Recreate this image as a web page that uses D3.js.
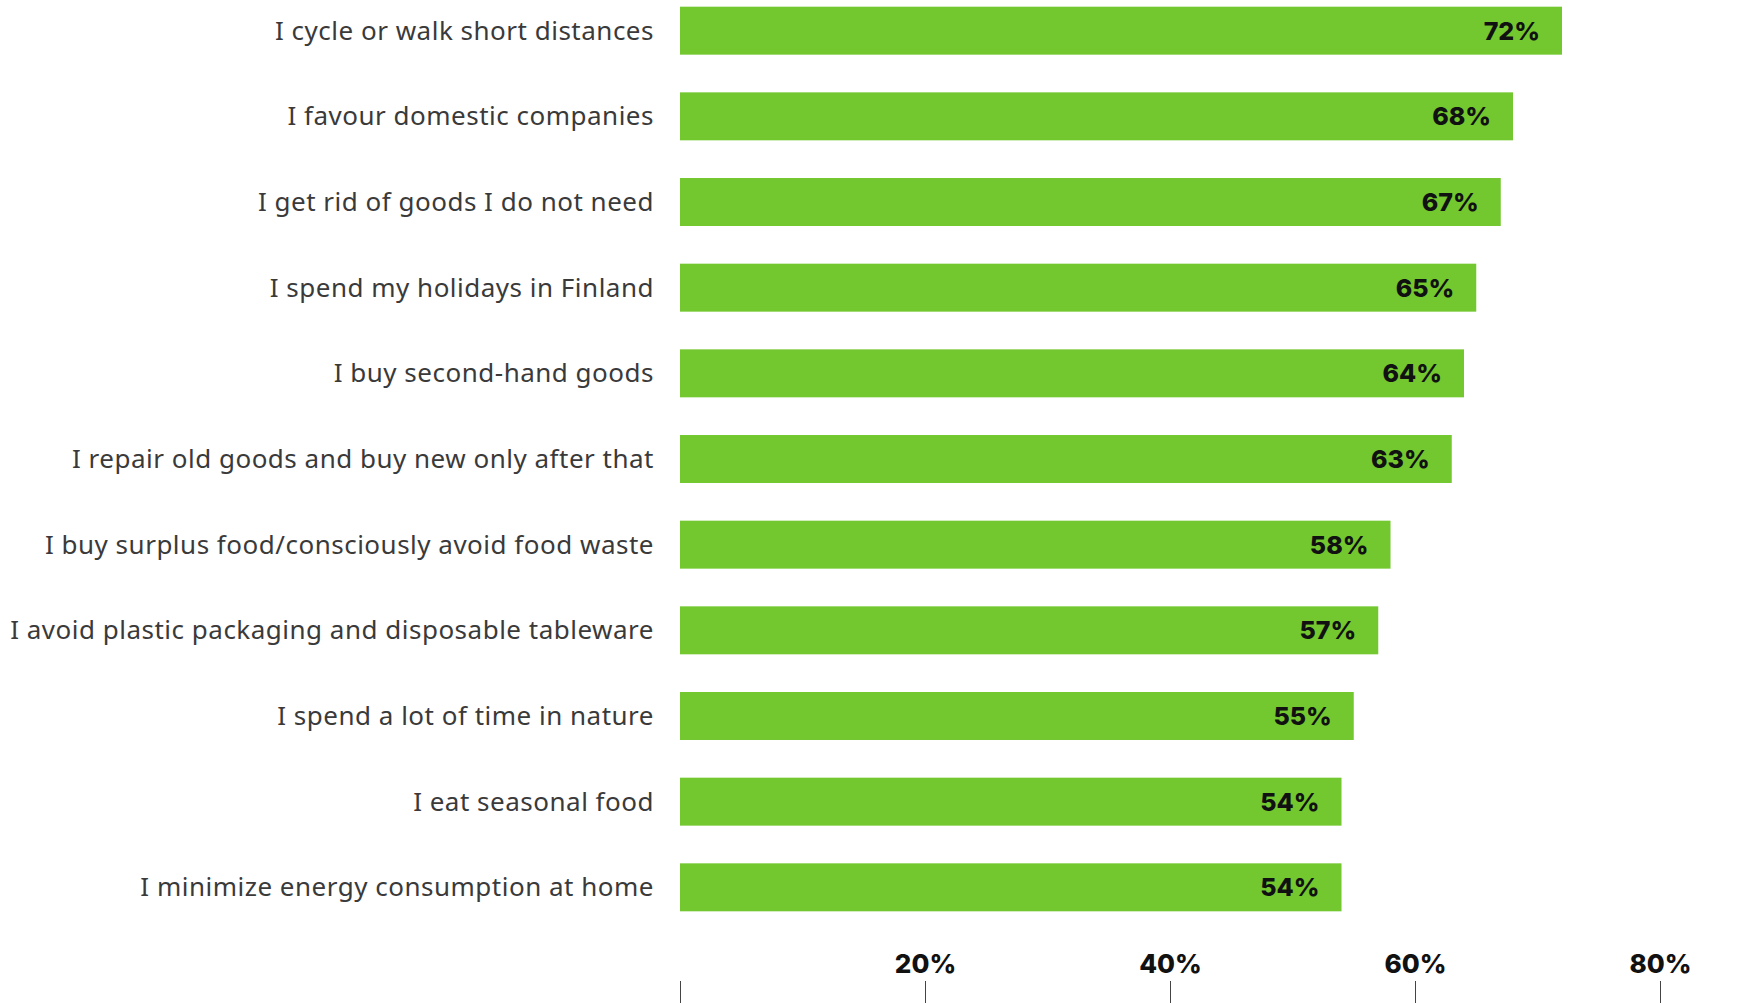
<!DOCTYPE html>
<html>
<head>
<meta charset="utf-8">
<script src="https://cdn.jsdelivr.net/npm/d3@7"></script>
<style>
  body { margin: 0; background: #fff; }
</style>
</head>
<body>
<div id="chart"></div>
<script>
// survey answers, top to bottom
const categories = [
  "I cycle or walk short distances",
  "I favour domestic companies",
  "I get rid of goods I do not need",
  "I spend my holidays in Finland",
  "I buy second-hand goods",
  "I repair old goods and buy new only after that",
  "I buy surplus food/consciously avoid food waste",
  "I avoid plastic packaging and disposable tableware",
  "I spend a lot of time in nature",
  "I eat seasonal food",
  "I minimize energy consumption at home"
];
const values = [72, 68, 67, 65, 64, 63, 58, 57, 55, 54, 54];
const tickValues = [0, 20, 40, 60, 80];

const width = 1739,
      height = 1003;
const barColor = "#73c82f";

const svg = d3.select("#chart")
  .append("svg")
    .attr("width", width)
    .attr("height", height);

const x = d3.scaleLinear()
  .domain([0, 80])
  .range([680, 1660]);

const y = d3.scaleBand()
  .domain(categories)
  .range([-31, 949])
  .padding(0.44);

const data = categories.map((c, i) => ({name: c, value: values[i]}));

svg.selectAll(".bar")
  .data(data)
  .enter()
  .append("rect")
    .attr("class", "bar")
    .attr("x", x(0))
    .attr("y", d => y(d.name))
    .attr("width", d => x(d.value) - x(0))
    .attr("height", y.bandwidth())
    .attr("fill", barColor);

// category labels
svg.selectAll(".label")
  .data(data)
  .enter()
  .append("text")
    .attr("class", "label")
    .attr("x", 654)
    .attr("y", d => y(d.name) + y.bandwidth() / 2)
    .attr("dy", "0.35em")
    .attr("text-anchor", "end")
    .style("font", "400 26px 'Noto Sans', sans-serif")
    .style("letter-spacing", "0.5px")
    .style("fill", "#3a3a3a")
    .text(d => d.name);

// value labels inside bar ends
svg.selectAll(".value")
  .data(data)
  .enter()
  .append("text")
    .attr("class", "value")
    .attr("x", d => x(d.value) - 22)
    .attr("y", d => y(d.name) + y.bandwidth() / 2)
    .attr("dy", "0.36em")
    .attr("text-anchor", "end")
    .style("font", "800 25px Inter, sans-serif")
    .style("fill", "#111")
    .text(d => d.value + "%");

// axis at the bottom, labels sit above the ticks
const axis = svg.append("g")
  .attr("transform", "translate(0, 981)")
  .call(d3.axisTop(x)
        .tickValues(tickValues)
        .tickSizeInner(-25)
        .tickSizeOuter(0)
        .tickPadding(8)
        .tickFormat(d => d ? d + "%" : ""));

axis.select(".domain").remove();
axis.selectAll("line")
  .attr("stroke", "#444");
axis.selectAll("text")
  .style("font", "800 26px Inter, sans-serif")
  .style("fill", "#111");
</script>
</body>
</html>
